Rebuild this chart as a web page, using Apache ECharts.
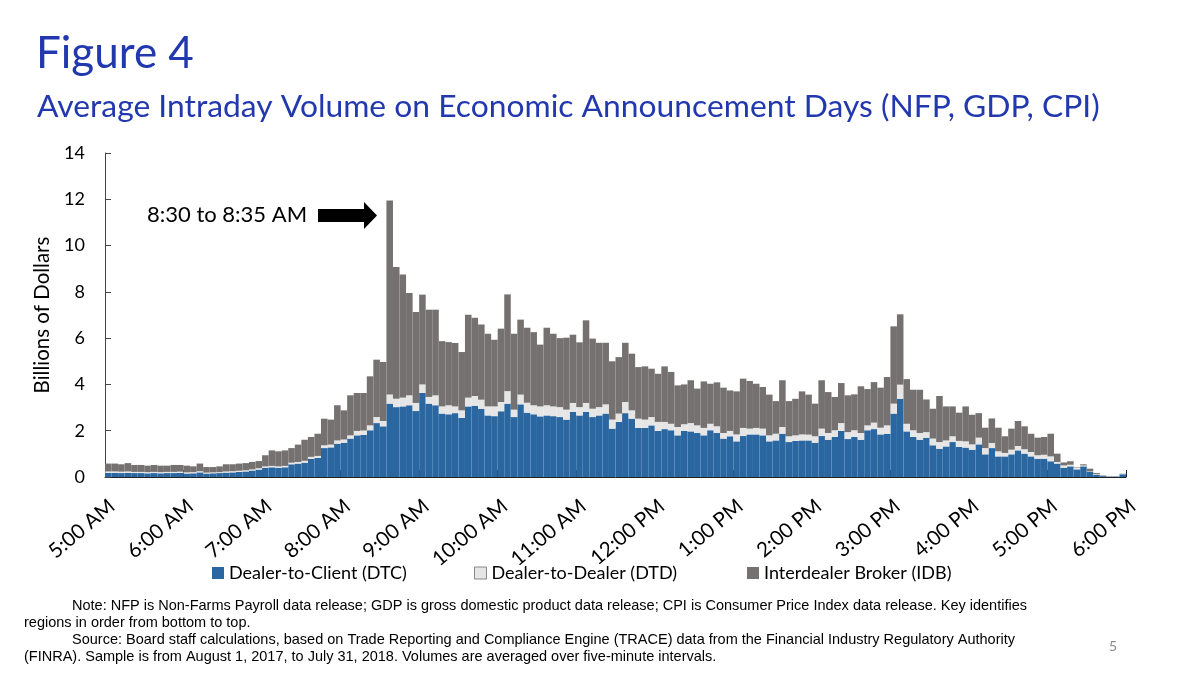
<!DOCTYPE html>
<html>
<head>
<meta charset="utf-8">
<script src="https://cdn.jsdelivr.net/npm/echarts@6/dist/echarts.min.js"></script>
<style>
html,body{margin:0;padding:0;background:#fff;}
#chart{width:1200px;height:675px;}
</style>
</head>
<body>
<div id="chart"></div>
<script>
// ---- Data (billions of dollars, averaged over 5-minute intervals, 5:00 AM to 6:00 PM) ----
var hourLabels = ['5:00 AM','6:00 AM','7:00 AM','8:00 AM','9:00 AM','10:00 AM','11:00 AM',
  '12:00 PM','1:00 PM','2:00 PM','3:00 PM','4:00 PM','5:00 PM','6:00 PM'];
var intervalMinutes = 5;
var seriesNames = ['Dealer-to-Client (DTC)', 'Dealer-to-Dealer (DTD)', 'Interdealer Broker (IDB)'];

var dtc = [
  .18,.18,.17,.18,.17,.17,.16,.17,.16,.17,.17,.18,.15,.16,.20,.15,.16,.17,.19,.20,.22,.24,.28,.32,
  .40,.42,.40,.42,.55,.58,.62,.79,.82,1.25,1.28,1.44,1.48,1.66,1.80,1.82,2.02,2.33,2.19,3.17,3.02,3.05,3.10,2.85,3.63,3.17,3.10,2.74,
  2.71,2.76,2.55,3.05,3.08,2.95,2.66,2.63,2.84,3.17,2.59,3.14,2.78,2.71,2.62,2.66,2.63,2.59,2.48,2.81,2.66,2.81,2.59,2.66,2.74,2.09,
  2.38,2.76,2.52,2.12,2.12,2.23,1.99,2.07,2.02,1.80,1.99,1.97,1.90,1.80,2.02,1.90,1.66,1.76,1.54,1.77,1.84,1.84,1.80,1.54,1.58,1.87,
  1.51,1.56,1.58,1.58,1.48,1.77,1.61,1.73,1.99,1.64,1.73,1.61,2.02,2.07,1.84,1.87,2.74,3.38,1.97,1.73,1.61,1.70,1.37,1.22,1.32,1.51,
  1.30,1.27,1.18,1.41,.98,1.25,.89,.89,.98,1.15,1.01,.89,.79,.79,.68,.58,.40,.46,.33,.46,.22,.09,.04,.02,.02,.12
];
var dtd = [
  .06,.06,.06,.06,.05,.05,.05,.05,.05,.05,.05,.05,.05,.05,.05,.04,.04,.04,.05,.05,.05,.05,.05,.06,
  .06,.06,.06,.06,.07,.07,.08,.08,.09,.12,.12,.14,.14,.14,.19,.19,.21,.26,.23,.40,.36,.38,.43,.35,.37,.29,.43,.31,
  .39,.29,.33,.38,.42,.39,.39,.42,.40,.54,.32,.42,.43,.39,.43,.44,.42,.43,.43,.39,.36,.39,.36,.36,.40,.39,
  .36,.48,.36,.40,.36,.36,.39,.31,.28,.36,.29,.36,.33,.32,.28,.29,.24,.23,.30,.35,.25,.28,.29,.26,.29,.29,
  .25,.24,.26,.25,.28,.32,.29,.29,.34,.30,.29,.29,.21,.28,.29,.36,.43,.61,.33,.29,.29,.24,.29,.29,.26,.25,
  .26,.27,.23,.29,.27,.22,.22,.15,.20,.19,.19,.19,.15,.17,.21,.07,.10,.07,.07,.04,.02,.03,.01,.01,.01,.01
];
var idb = [
  .34,.34,.32,.36,.30,.30,.28,.30,.28,.27,.30,.29,.29,.25,.33,.24,.23,.25,.31,.30,.31,.31,.32,.31,
  .48,.67,.65,.67,.63,.75,.91,.86,.96,1.15,1.08,1.52,1.26,1.73,1.64,1.62,2.12,2.48,2.55,8.38,5.69,5.32,4.42,3.93,3.88,3.77,3.70,2.82,
  2.73,2.74,2.52,3.58,3.38,3.25,3.14,2.88,3.17,4.18,3.28,3.24,3.24,3.16,2.67,3.35,3.14,2.98,3.11,2.95,2.80,3.57,3.03,2.78,2.66,2.52,
  2.44,2.56,2.45,2.23,2.30,2.09,2.08,2.40,2.24,1.80,1.72,1.85,1.59,2.01,1.73,1.90,1.96,1.75,1.86,2.13,2.06,1.91,1.80,1.76,1.41,2.02,
  1.52,1.58,1.86,1.73,1.41,2.09,1.77,1.44,1.73,1.59,1.55,2.02,1.57,1.75,1.73,2.09,3.34,3.04,1.93,1.75,1.87,1.41,1.29,1.99,1.47,1.29,
  1.22,1.51,1.28,1.06,.88,1.06,1.02,.72,.91,1.08,.99,.79,.76,.77,.98,.36,.13,.15,.02,.05,.12,.05,.02,.01,.01,.01
];
var yTicks = [0, 2, 4, 6, 8, 10, 12, 14];

// ---- Build ----
var FONT = 'Lato, "Open Sans", sans-serif';
var colors = ['#2A67A1', '#E6E6E6', '#767171'];
var totalMinutes = (hourLabels.length - 1) * 60;
// category names for each 5-minute bar (start time of the interval)
var barTimes = dtc.map(function (_, i) {
  var m = 5 * 60 + i * intervalMinutes, h = Math.floor(m / 60), mm = m % 60;
  var h12 = ((h + 11) % 12) + 1;
  return h12 + ':' + (mm < 10 ? '0' : '') + mm + (h < 12 ? ' AM' : ' PM');
});

var chart = echarts.init(document.getElementById('chart'), null, {renderer: 'canvas'});
var noteFont = '14.5px "Liberation Sans", Arial, sans-serif';
var legendText = {fontFamily: FONT, fontSize: 18, color: '#000'};
var option = {
  animation: false,
  backgroundColor: '#ffffff',
  title: [
    {text: 'Figure 4', left: 31, top: 27, textStyle: {fontFamily: FONT, fontWeight: 'normal', fontSize: 44, color: '#2238AE'}},
    {text: 'Average Intraday Volume on Economic Announcement Days (NFP, GDP, CPI)', left: 32, top: 86,
     textStyle: {fontFamily: FONT, fontWeight: 'normal', fontSize: 31.8, color: '#2238AE'}}
  ],
  grid: {left: 105, top: 153, width: 1021, height: 324, containLabel: false},
  legend: [
    {data: [seriesNames[0]], left: 207, top: 559, itemWidth: 12, itemHeight: 12, icon: 'rect', textStyle: legendText},
    {data: [seriesNames[1]], left: 469, top: 559, itemWidth: 12, itemHeight: 12, icon: 'rect',
     itemStyle: {borderColor: '#888', borderWidth: 1}, textStyle: legendText},
    {data: [seriesNames[2]], left: 742, top: 559, itemWidth: 12, itemHeight: 12, icon: 'rect', textStyle: legendText}
  ],
  xAxis: [
    {
      type: 'category', data: barTimes, position: 'bottom', boundaryGap: true,
      axisLine: {show: true, lineStyle: {color: '#222', width: 1}},
      axisTick: {show: false}, axisLabel: {show: false}, splitLine: {show: false}
    },
    {
      type: 'value', min: 0, max: totalMinutes, interval: 60, position: 'bottom',
      splitLine: {show: false},
      axisLine: {show: false},
      axisTick: {show: true, inside: true, length: 7, lineStyle: {color: '#222'}},
      axisLabel: {
        rotate: 40, margin: 18, align: 'right', verticalAlign: 'top', lineHeight: 22,
        fontFamily: FONT, fontSize: 20.5, color: '#000',
        showMinLabel: true, showMaxLabel: true,
        formatter: function (v) { var k = v / 60; return (k === Math.round(k) && hourLabels[k]) ? hourLabels[k] : ''; }
      }
    }
  ],
  yAxis: {
    type: 'value', min: yTicks[0], max: yTicks[yTicks.length - 1], interval: yTicks[1] - yTicks[0],
    name: 'Billions of Dollars', nameLocation: 'middle', nameGap: 52, nameRotate: 90,
    nameTextStyle: {fontFamily: FONT, fontSize: 20.5, color: '#000'},
    splitLine: {show: false},
    axisLine: {show: true, lineStyle: {color: '#444', width: 1}},
    axisTick: {show: true, inside: true, length: 6, lineStyle: {color: '#444'}},
    axisLabel: {margin: 20, fontFamily: FONT, fontSize: 18, color: '#000'}
  },
  series: [
    {name: seriesNames[0], type: 'bar', stack: 'vol', xAxisIndex: 0, data: dtc, barCategoryGap: '0%',
     itemStyle: {color: colors[0]}},
    {name: seriesNames[1], type: 'bar', stack: 'vol', xAxisIndex: 0, data: dtd, barCategoryGap: '0%',
     itemStyle: {color: colors[1]}},
    {name: seriesNames[2], type: 'bar', stack: 'vol', xAxisIndex: 0, data: idb, barCategoryGap: '0%',
     itemStyle: {color: colors[2]}}
  ],
  graphic: [
    {type: 'text', left: 147, top: 204, style: {text: '8:30 to 8:35 AM', font: '22px ' + FONT, fill: '#000'}},
    {type: 'polygon', shape: {points: [[318,209],[364,209],[364,202],[377,215.5],[364,229],[364,222],[318,222]]},
     style: {fill: '#000'}},
    {type: 'text', left: 72, top: 598, style: {text: 'Note: NFP is Non-Farms Payroll data release; GDP is gross domestic product data release; CPI is Consumer Price Index data release. Key identifies', font: noteFont, fill: '#000'}},
    {type: 'text', left: 24, top: 615, style: {text: 'regions in order from bottom to top.', font: noteFont, fill: '#000'}},
    {type: 'text', left: 72, top: 632, style: {text: 'Source: Board staff calculations, based on Trade Reporting and Compliance Engine (TRACE) data from the Financial Industry Regulatory Authority', font: noteFont, fill: '#000'}},
    {type: 'text', left: 24, top: 649, style: {text: '(FINRA). Sample is from August 1, 2017, to July 31, 2018. Volumes are averaged over five-minute intervals.', font: noteFont, fill: '#000'}},
    {type: 'text', left: 1109, top: 639, style: {text: '5', font: '14px ' + FONT, fill: '#8c8c8c'}}
  ]
};
chart.setOption(option);
</script>
</body>
</html>
